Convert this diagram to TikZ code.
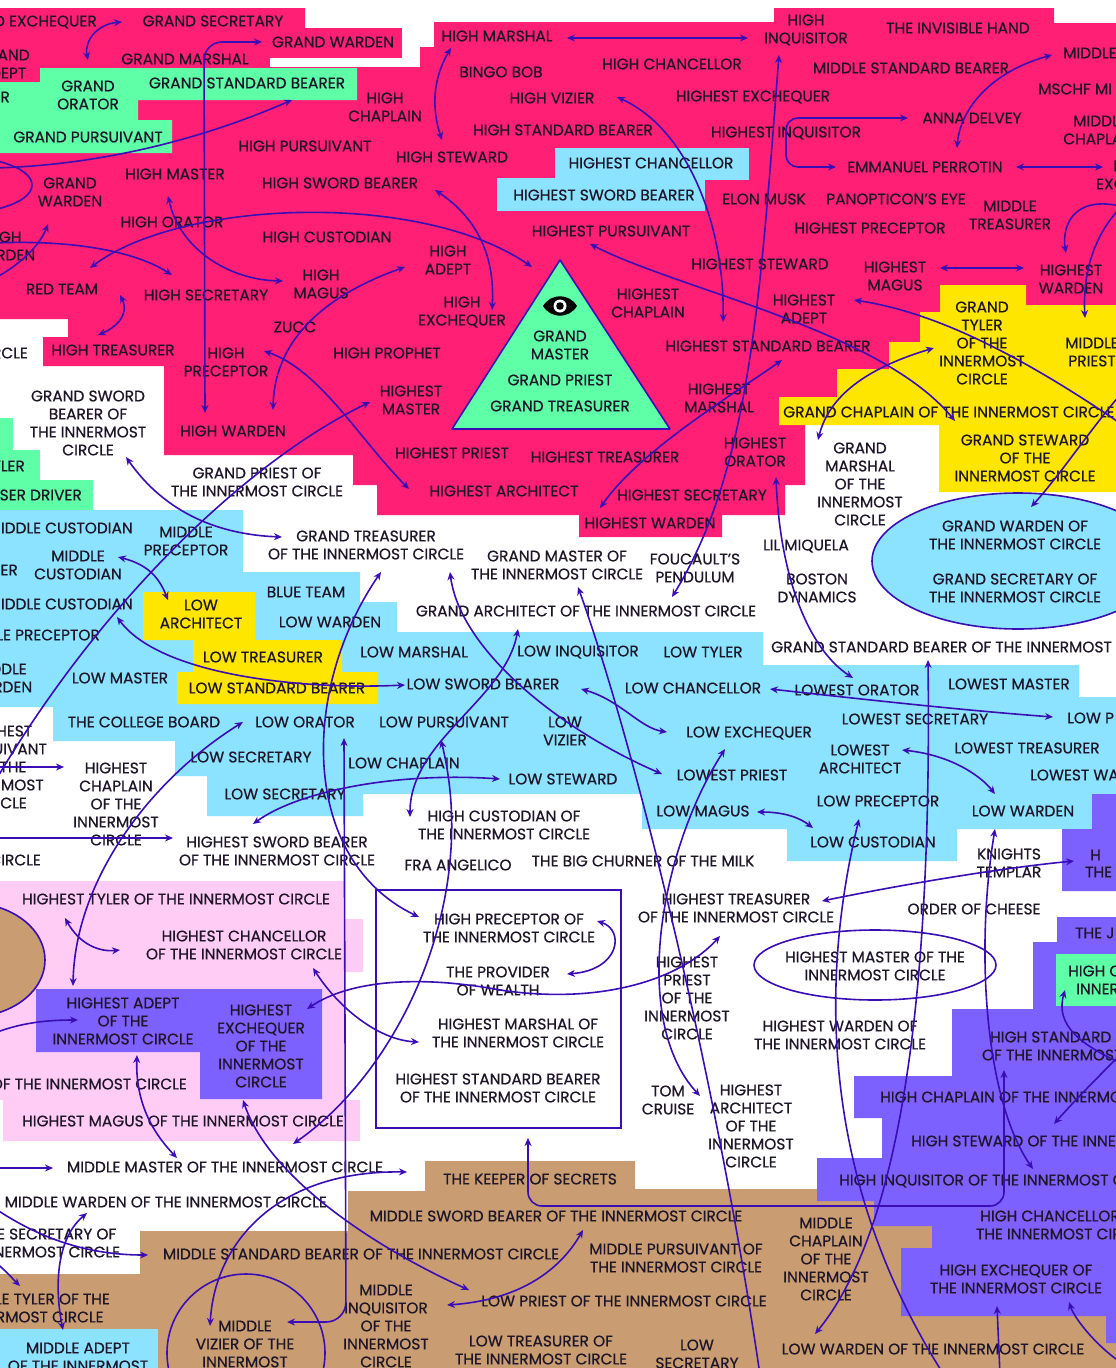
\documentclass[tikz,border=0pt]{standalone}
\usepackage{fontspec}
\setmainfont{Poppins}[FakeBold=0.6]
\usetikzlibrary{arrows.meta}
\definecolor{pinkbg}{RGB}{255,31,116}
\definecolor{mint}{RGB}{94,255,167}
\definecolor{lblue}{RGB}{140,227,255}
\definecolor{yel}{RGB}{255,230,0}
\definecolor{lpink}{RGB}{255,204,245}
\definecolor{purp}{RGB}{124,97,255}
\definecolor{tan}{RGB}{201,157,113}
\definecolor{arc}{RGB}{58,14,180}
\definecolor{txt}{RGB}{30,22,40}
\newcommand\mytf{\fontsize{15.4}{18}\selectfont}
\begin{document}
\begin{tikzpicture}[x=1pt,y=-1pt,
  tx/.style={font=\mytf, align=center, inner sep=0pt, text=txt},
  ab/.style={draw=arc, line width=1.6pt, {Stealth[length=8pt,width=7pt]}-{Stealth[length=8pt,width=7pt]}},
  ae/.style={draw=arc, line width=1.6pt, -{Stealth[length=8pt,width=7pt]}},
  outl/.style={draw=arc, line width=1.6pt}]
\useasboundingbox (0,0) rectangle (1116,1368);
\fill[white] (0,0) rectangle (1116,1368);
% ---------- backgrounds ----------
\fill[pinkbg] (0,8)--(305,8)--(305,28)--(434,28)--(434,22)--(774,22)--(774,8)--(1054,8)--(1054,23)--(1116,23)--(1116,305)--(1026,305)--(1026,285)--(940,285)--(940,312)--(920,312)--(920,342)--(889,342)--(889,369)--(837,369)--(837,397)--(779,397)--(779,425)--(805,425)--(805,485)--(785,485)--(785,515)--(722,515)--(722,537)--(579,537)--(579,515)--(377,515)--(377,485)--(353,485)--(353,455)--(164,455)--(164,366)--(43,366)--(43,337)--(68,337)--(68,319)--(0,319)--cycle;
\fill[white] (402,0) rectangle (420,67);
\fill[white] (420,0) rectangle (434,47);
\fill[white] (270,58) rectangle (402,67);
\fill[lblue] (555,148) rectangle (749,180);
\fill[lblue] (497,178) rectangle (705,211);
\fill[mint] (40,68)--(357,68)--(357,100)--(138,100)--(138,120)--(172,120)--(172,153)--(0,153)--(0,82)--(40,82)--cycle;
\fill[mint] (0,418) rectangle (13,450);
\fill[mint] (0,450) rectangle (40,480);
\fill[mint] (0,480) rectangle (93,510);
\fill[mint] (0,552) rectangle (18,580);
\fill[yel] (940,285)--(1026,285)--(1026,305)--(1116,305)--(1116,492)--(939,492)--(939,425)--(779,425)--(779,397)--(837,397)--(837,369)--(889,369)--(889,342)--(920,342)--(920,312)--(940,312)--cycle;
\fill[lblue] (0,510)--(243,510)--(243,572)--(360,572)--(360,602)--(397,602)--(397,632)--(763,632)--(763,665)--(1079,665)--(1079,697)--(1116,697)--(1116,794)--(1092,794)--(1092,829)--(957,829)--(957,861)--(787,861)--(787,829)--(642,829)--(642,794)--(363,794)--(363,816)--(207,816)--(207,776)--(175,776)--(175,741)--(53,741)--(53,707)--(0,707)--cycle;
\fill[yel] (143,592)--(255,592)--(255,640)--(342,640)--(342,672)--(378,672)--(378,704)--(177,704)--(177,672)--(193,672)--(193,640)--(143,640)--cycle;
\fill[lpink] (0,881)--(345,881)--(345,919)--(363,919)--(363,972)--(345,972)--(345,1100)--(360,1100)--(360,1141)--(3,1141)--(3,1100)--(0,1100)--cycle;
\filldraw[fill=tan, outl] (-30,960) ellipse [x radius=75pt, y radius=57pt];
\fill[purp] (36,989)--(322,989)--(322,1099)--(200,1099)--(200,1052)--(36,1052)--cycle;
\fill[tan] (0,1274)--(140,1274)--(140,1231)--(348,1231)--(348,1191)--(425,1191)--(425,1161)--(635,1161)--(635,1189)--(1116,1189)--(1116,1368)--(0,1368)--cycle;
\fill[purp] (1057,917)--(1116,917)--(1116,1343)--(1106,1343)--(1106,1316)--(901,1316)--(901,1248)--(932,1248)--(932,1226)--(874,1226)--(874,1201)--(817,1201)--(817,1158)--(882,1158)--(882,1118)--(854,1118)--(854,1076)--(952,1076)--(952,1009)--(1033,1009)--(1033,942)--(1057,942)--cycle;
\fill[purp] (1092,794)--(1116,794)--(1116,891)--(1062,891)--(1062,829)--(1092,829)--cycle;
\fill[mint] (1056,954) rectangle (1116,1006);
\fill[lblue] (0,1329) rectangle (158,1368);
\draw[outl] (246,1353) circle [radius=79pt];
\draw[outl] (376,890) rectangle (621,1128);
\draw[outl] (875,965) ellipse [x radius=121pt, y radius=35pt];
\filldraw[fill=lblue, outl] (1018,561) ellipse [x radius=146pt, y radius=68pt];
\draw[outl] (-40,185) ellipse [x radius=72pt, y radius=28pt];
\filldraw[fill=mint, outl, line join=round] (560,260)--(670,429)--(452,429)--cycle;
% eye
\fill[black] (543,306) .. controls (551,293) and (569,293) .. (577,306) .. controls (569,319) and (551,319) .. (543,306) -- cycle;
\fill[white] (560,306) circle [radius=6.5pt];
\fill[black] (560,306) circle [radius=3.8pt];
% ---------- texts: top ----------
\node[tx, anchor=east] (tp1) at (97,22) {GRAND EXCHEQUER};
\node[tx] (tp2) at (213,21) {GRAND SECRETARY};
\node[tx] (tp3) at (3,64) {GRAND\\ADEPT};
\node[tx] (tp4) at (185,59) {GRAND MARSHAL};
\node[tx] (tp5) at (333,42) {GRAND WARDEN};
\node[tx] (tp6) at (88,95) {GRAND\\ORATOR};
\node[tx] (tp7) at (247,83) {GRAND STANDARD BEARER};
\node[tx, anchor=east] (tp8) at (10,97) {R};
\node[tx] (tp9) at (88,137) {GRAND PURSUIVANT};
\node[tx] (tp10) at (70,192) {GRAND\\WARDEN};
\node[tx] (tp11) at (175,174) {HIGH MASTER};
\node[tx] (tp12) at (172,222) {HIGH ORATOR};
\node[tx] (tp13) at (3,246) {HIGH\\WARDEN};
\node[tx] (tp14) at (62,289) {RED TEAM};
\node[tx] (tp15) at (206,295) {HIGH SECRETARY};
\node[tx] (tp16) at (321,284) {HIGH\\MAGUS};
\node[tx] (tp17) at (295,327) {ZUCC};
\node[tx] (tp18) at (305,146) {HIGH PURSUIVANT};
\node[tx] (tp19) at (340,183) {HIGH SWORD BEARER};
\node[tx] (tp20) at (327,237) {HIGH CUSTODIAN};
\node[tx] (tp21) at (385,107) {HIGH\\CHAPLAIN};
\node[tx] (tp22) at (497,36) {HIGH MARSHAL};
\node[tx] (tp23) at (501,72) {BINGO BOB};
\node[tx] (tp24) at (672,64) {HIGH CHANCELLOR};
\node[tx] (tp25) at (552,98) {HIGH VIZIER};
\node[tx] (tp26) at (753,97) {HIGHEST EXCHEQUER};
\node[tx] (tp27) at (563,130) {HIGH STANDARD BEARER};
\node[tx] (tp28) at (786,133) {HIGHEST INQUISITOR};
\node[tx] (tp29) at (452,157) {HIGH STEWARD};
\node[tx] (tp30) at (651,163) {HIGHEST CHANCELLOR};
\node[tx] (tp31) at (604,195) {HIGHEST SWORD BEARER};
\node[tx] (tp32) at (764,199) {ELON MUSK};
\node[tx] (tp33) at (611,231) {HIGHEST PURSUIVANT};
\node[tx] (tp34) at (448,260) {HIGH\\ADEPT};
\node[tx] (tp35) at (462,312) {HIGH\\EXCHEQUER};
\node[tx] (tp36) at (760,264) {HIGHEST STEWARD};
\node[tx] (tp37) at (648,303) {HIGHEST\\CHAPLAIN};
\node[tx] (tp38) at (806,30) {HIGH\\INQUISITOR};
\node[tx] (tp39) at (958,28) {THE INVISIBLE HAND};
\node[tx] (tp40) at (911,68) {MIDDLE STANDARD BEARER};
\node[tx, anchor=west] (tp41) at (1063,53) {MIDDLE};
\node[tx, anchor=west] (tp42) at (1038,89) {MSCHF MI};
\node[tx] (tp43) at (1100,130) {MIDDLE\\CHAPLAIN};
\node[tx] (tp44) at (972,118) {ANNA DELVEY};
\node[tx] (tp45) at (925,167) {EMMANUEL PERROTIN};
\node[tx] (tp46) at (1140,176) {MIDDLE\\EXCHEQUER};
\node[tx] (tp47) at (896,199) {PANOPTICON’S EYE};
\node[tx] (tp48) at (870,228) {HIGHEST PRECEPTOR};
\node[tx] (tp49) at (1010,215) {MIDDLE\\TREASURER};
\node[tx] (tp50) at (895,276) {HIGHEST\\MAGUS};
\node[tx] (tp51) at (1071,279) {HIGHEST\\WARDEN};
\node[tx] (tp52) at (804,309) {HIGHEST\\ADEPT};
\node[tx] (tp53) at (982,343) {GRAND\\TYLER\\OF THE\\INNERMOST\\CIRCLE};
\node[tx] (tp54) at (1092,352) {MIDDLE\\PRIEST};
\node[tx] (tp55) at (768,346) {HIGHEST STANDARD BEARER};
\node[tx] (tp56) at (387,353) {HIGH PROPHET};
\node[tx] (tp57) at (226,362) {HIGH\\PRECEPTOR};
\node[tx] (tp58) at (113,350) {HIGH TREASURER};
\node[tx, anchor=east] (tp59) at (28,353) {CIRCLE};
\node[tx] (tp60) at (411,400) {HIGHEST\\MASTER};
\node[tx] (tp61) at (719,398) {HIGHEST\\MARSHAL};
\node[tx] (tp62) at (233,431) {HIGH WARDEN};
\node[tx, anchor=west] (tp63) at (783,412) {GRAND CHAPLAIN OF THE INNERMOST CIRCLE};
\node[tx] (tp64) at (1025,458) {GRAND STEWARD\\OF THE\\INNERMOST CIRCLE};
\node[tx] (tp65) at (860,484) {GRAND\\MARSHAL\\OF THE\\INNERMOST\\CIRCLE};
\node[tx] (tp66) at (755,452) {HIGHEST\\ORATOR};
\node[tx] (tp67) at (452,453) {HIGHEST PRIEST};
\node[tx] (tp68) at (605,457) {HIGHEST TREASURER};
\node[tx] (tp69) at (504,491) {HIGHEST ARCHITECT};
\node[tx] (tp70) at (692,495) {HIGHEST SECRETARY};
\node[tx] (tp71) at (650,523) {HIGHEST WARDEN};
\node[tx] (tri1) at (560,345) {GRAND\\MASTER};
\node[tx] (tri2) at (560,380) {GRAND PRIEST};
\node[tx] (tri3) at (560,406) {GRAND TREASURER};
% ---------- texts: middle ----------
\node[tx] (tm1) at (88,423) {GRAND SWORD\\BEARER OF\\THE INNERMOST\\CIRCLE};
\node[tx] (tm2) at (257,482) {GRAND PRIEST OF\\THE INNERMOST CIRCLE};
\node[tx, anchor=east] (tm3) at (25,466) {TYLER};
\node[tx, anchor=east] (tm4) at (82,495) {SER DRIVER};
\node[tx, anchor=east] (tm5) at (133,528) {MIDDLE CUSTODIAN};
\node[tx] (tm6) at (186,541) {MIDDLE\\PRECEPTOR};
\node[tx] (tm7) at (366,545) {GRAND TREASURER\\OF THE INNERMOST CIRCLE};
\node[tx] (tm8) at (78,565) {MIDDLE\\CUSTODIAN};
\node[tx, anchor=east] (tm9) at (18,570) {ER};
\node[tx, anchor=east] (tm10) at (133,604) {MIDDLE CUSTODIAN};
\node[tx] (tm11) at (201,614) {LOW\\ARCHITECT};
\node[tx] (tm12) at (306,592) {BLUE TEAM};
\node[tx] (tm13) at (330,622) {LOW WARDEN};
\node[tx, anchor=east] (tm14) at (100,635) {MIDDLE PRECEPTOR};
\node[tx] (tm15) at (0,678) {MIDDLE\\WARDEN};
\node[tx] (tm16) at (120,678) {LOW MASTER};
\node[tx] (tm17) at (263,657) {LOW TREASURER};
\node[tx] (tm18) at (277,688) {LOW STANDARD BEARER};
\node[tx] (tm19) at (414,652) {LOW MARSHAL};
\node[tx] (tm20) at (557,565) {GRAND MASTER OF\\THE INNERMOST CIRCLE};
\node[tx] (tm21) at (695,568) {FOUCAULT’S\\PENDULUM};
\node[tx] (tm22) at (806,546) {LIL MIQUELA};
\node[tx] (tm23) at (817,588) {BOSTON\\DYNAMICS};
\node[tx] (tm24) at (1015,535) {GRAND WARDEN OF\\THE INNERMOST CIRCLE};
\node[tx] (tm25) at (1015,588) {GRAND SECRETARY OF\\THE INNERMOST CIRCLE};
\node[tx] (tm26) at (586,611) {GRAND ARCHITECT OF THE INNERMOST CIRCLE};
\node[tx, anchor=west] (tm27) at (771,647) {GRAND STANDARD BEARER OF THE INNERMOST CIRCLE};
\node[tx] (tm28) at (578,652) {LOW INQUISITOR};
\node[tx] (tm29) at (703,652) {LOW TYLER};
\node[tx] (tm30) at (483,684) {LOW SWORD BEARER};
\node[tx] (tm31) at (693,688) {LOW CHANCELLOR};
\node[tx] (tm32) at (857,690) {LOWEST ORATOR};
\node[tx] (tm33) at (1009,684) {LOWEST MASTER};
\node[tx] (tm34) at (144,722) {THE COLLEGE BOARD};
\node[tx] (tm35) at (305,722) {LOW ORATOR};
\node[tx] (tm36) at (444,722) {LOW PURSUIVANT};
\node[tx] (tm37) at (565,731) {LOW\\VIZIER};
\node[tx] (tm38) at (749,733) {LOW EXCHEQUER};
\node[tx] (tm39) at (915,719) {LOWEST SECRETARY};
\node[tx, anchor=west] (tm40) at (1067,718) {LOW P};
\node[tx] (tm41) at (1,767) {HIGHEST\\PURSUIVANT\\OF THE\\INNERMOST\\CIRCLE};
\node[tx] (tm42) at (116,804) {HIGHEST\\CHAPLAIN\\OF THE\\INNERMOST\\CIRCLE};
\node[tx] (tm43) at (251,757) {LOW SECRETARY};
\node[tx] (tm44) at (404,763) {LOW CHAPLAIN};
\node[tx] (tm45) at (563,779) {LOW STEWARD};
\node[tx] (tm46) at (732,775) {LOWEST PRIEST};
\node[tx] (tm47) at (860,759) {LOWEST\\ARCHITECT};
\node[tx] (tm48) at (1027,748) {LOWEST TREASURER};
\node[tx, anchor=west] (tm49) at (1030,775) {LOWEST WA};
\node[tx] (tm50) at (285,794) {LOW SECRETARY};
\node[tx] (tm51) at (878,801) {LOW PRECEPTOR};
\node[tx] (tm52) at (1023,811) {LOW WARDEN};
\node[tx] (tm53) at (703,811) {LOW MAGUS};
\node[tx] (tm54) at (873,842) {LOW CUSTODIAN};
\node[tx] (tm55) at (504,825) {HIGH CUSTODIAN OF\\THE INNERMOST CIRCLE};
\node[tx] (tm56) at (277,851) {HIGHEST SWORD BEARER\\OF THE INNERMOST CIRCLE};
\node[tx, anchor=east] (tm57) at (41,860) {CIRCLE};
\node[tx] (tm58) at (458,865) {FRA ANGELICO};
\node[tx] (tm59) at (643,861) {THE BIG CHURNER OF THE MILK};
\node[tx] (tm60) at (1009,863) {KNIGHTS\\TEMPLAR};
\node[tx, anchor=west] (tm61) at (1090,855) {H};
\node[tx, anchor=west] (tm62) at (1085,872) {THE};
% ---------- texts: lower ----------
\node[tx] (tl1) at (176,899) {HIGHEST TYLER OF THE INNERMOST CIRCLE};
\node[tx] (tl2) at (736,908) {HIGHEST TREASURER\\OF THE INNERMOST CIRCLE};
\node[tx] (tl3) at (974,909) {ORDER OF CHEESE};
\node[tx, anchor=west] (tl4) at (1075,933) {THE J};
\node[tx, anchor=west] (tl5) at (1068,971) {HIGH C};
\node[tx, anchor=west] (tl6) at (1076,989) {INNER};
\node[tx] (tl7) at (244,945) {HIGHEST CHANCELLOR\\OF THE INNERMOST CIRCLE};
\node[tx] (tl8) at (509,928) {HIGH PRECEPTOR OF\\THE INNERMOST CIRCLE};
\node[tx] (tl9) at (498,981) {THE PROVIDER\\OF WEALTH};
\node[tx] (tl10) at (875,966) {HIGHEST MASTER OF THE\\INNERMOST CIRCLE};
\node[tx] (tl11) at (687,998) {HIGHEST\\PRIEST\\OF THE\\INNERMOST\\CIRCLE};
\node[tx] (tl12) at (123,1021) {HIGHEST ADEPT\\OF THE\\INNERMOST CIRCLE};
\node[tx] (tl13) at (261,1046) {HIGHEST\\EXCHEQUER\\OF THE\\INNERMOST\\CIRCLE};
\node[tx] (tl14) at (518,1033) {HIGHEST MARSHAL OF\\THE INNERMOST CIRCLE};
\node[tx] (tl15) at (840,1035) {HIGHEST WARDEN OF\\THE INNERMOST CIRCLE};
\node[tx] (tl16) at (1080,1046) {HIGH STANDARD BEARER\\OF THE INNERMOST CIRCLE};
\node[tx, anchor=east] (tl17) at (187,1084) {OF THE INNERMOST CIRCLE};
\node[tx] (tl18) at (498,1088) {HIGHEST STANDARD BEARER\\OF THE INNERMOST CIRCLE};
\node[tx] (tl19) at (668,1100) {TOM\\CRUISE};
\node[tx] (tl20) at (751,1126) {HIGHEST\\ARCHITECT\\OF THE\\INNERMOST\\CIRCLE};
\node[tx, anchor=west] (tl21) at (880,1097) {HIGH CHAPLAIN OF THE INNERMOST CIRCLE};
\node[tx] (tl22) at (183,1121) {HIGHEST MAGUS OF THE INNERMOST CIRCLE};
\node[tx, anchor=west] (tl23) at (911,1141) {HIGH STEWARD OF THE INNERMOST CIRCLE};
\node[tx] (tl24) at (225,1167) {MIDDLE MASTER OF THE INNERMOST CIRCLE};
\node[tx] (tl25) at (530,1179) {THE KEEPER OF SECRETS};
\node[tx, anchor=west] (tl26) at (839,1181) {HIGH INQUISITOR OF THE INNERMOST CIRCLE};
\node[tx, anchor=east] (tl27) at (327,1202) {MIDDLE WARDEN OF THE INNERMOST CIRCLE};
\node[tx] (tl28) at (556,1216) {MIDDLE SWORD BEARER OF THE INNERMOST CIRCLE};
\node[tx] (tl29) at (1062,1225) {HIGH CHANCELLOR OF\\THE INNERMOST CIRCLE};
\node[tx] (tl30) at (34,1243) {MIDDLE SECRETARY OF\\THE INNERMOST CIRCLE};
\node[tx] (tl31) at (361,1254) {MIDDLE STANDARD BEARER OF THE INNERMOST CIRCLE};
\node[tx] (tl32) at (676,1258) {MIDDLE PURSUIVANT OF\\THE INNERMOST CIRCLE};
\node[tx] (tl33) at (826,1259) {MIDDLE\\CHAPLAIN\\OF THE\\INNERMOST\\CIRCLE};
\node[tx] (tl34) at (1016,1279) {HIGH EXCHEQUER OF\\THE INNERMOST CIRCLE};
\node[tx] (tl35) at (33,1308) {MIDDLE TYLER OF THE\\INNERMOST CIRCLE};
\node[tx] (tl36) at (386,1326) {MIDDLE\\INQUISITOR\\OF THE\\INNERMOST\\CIRCLE};
\node[tx] (tl37) at (624,1301) {LOW PRIEST OF THE INNERMOST CIRCLE};
\node[tx] (tl38) at (245,1344) {MIDDLE\\VIZIER OF THE\\INNERMOST};
\node[tx] (tl39) at (78,1357) {MIDDLE ADEPT\\OF THE INNERMOST};
\node[tx] (tl40) at (541,1350) {LOW TREASURER OF\\THE INNERMOST CIRCLE};
\node[tx] (tl41) at (697,1354) {LOW\\SECRETARY};
\node[tx] (tl42) at (933,1349) {LOW WARDEN OF THE INNERMOST CIRCLE};
% ---------- connectors ----------
\draw[ab] (122,22) .. controls (98,24) and (84,40) .. (88,60);
\draw[ab, rounded corners=18pt] (205,413) -- (204,42) -- (262,42);
\draw[ae] (-5,168) .. controls (100,165) and (200,140) .. (292,100);
\draw[ab] (168,196) .. controls (180,250) and (230,280) .. (283,281);
\draw[ae] (-5,278) .. controls (20,265) and (40,245) .. (48,224);
\draw[ae] (-5,243) .. controls (60,240) and (130,248) .. (172,275);
\draw[ab] (90,268) .. controls (180,200) and (420,190) .. (532,267);
\draw[ab] (120,295) .. controls (130,315) and (115,328) .. (98,335);
\draw[ab] (273,410) .. controls (275,330) and (340,290) .. (405,267);
\draw[ab] (451,48) .. controls (432,80) and (432,110) .. (442,140);
\draw[ab] (567,38) -- (748,38);
\draw[ab] (435,190) .. controls (480,220) and (495,260) .. (492,310);
\draw[ab] (617,97) .. controls (690,130) and (725,230) .. (723,322);
\draw[ab] (590,244) .. controls (680,290) and (880,330) .. (955,421);
\draw[ab] (779,55) .. controls (760,300) and (750,470) .. (672,597);
\draw[ae] (1130,430) .. controls (1000,340) and (920,310) .. (854,300);
\draw[ab] (940,268) -- (1024,268);
\draw[ab, rounded corners=12pt] (908,118) -- (786,118) -- (786,167) -- (836,167);
\draw[ab] (1052,55) .. controls (990,72) and (960,110) .. (957,148);
\draw[ab] (1016,167) -- (1103,167);
\draw[ae] (1120,206) .. controls (1070,195) and (1062,230) .. (1066,253);
\draw[ae] (1120,208) .. controls (1090,240) and (1083,280) .. (1085,318);
\draw[ab] (934,348) .. controls (860,370) and (828,400) .. (818,440);
\draw[ab] (782,360) .. controls (740,390) and (640,450) .. (600,508);
\draw[ae] (1120,395) .. controls (1090,430) and (1060,475) .. (1031,507);
\draw[ab] (776,477) .. controls (780,580) and (810,650) .. (853,678);
\draw[ab] (928,660) .. controls (932,1000) and (900,1230) .. (815,1334);
\draw[ae] (944,1375) .. controls (820,1180) and (820,980) .. (859,819);
\draw[ab] (995,829) .. controls (975,950) and (985,1100) .. (1033,1169);
\draw[ab, rounded corners=14pt] (1004,1070) -- (1004,1206) -- (528,1206) -- (528,1138);
\draw[ae] (760,1375) .. controls (720,1100) and (640,760) .. (578,587);
\draw[ab] (725,749) .. controls (660,850) and (630,1020) .. (700,1096);
\draw[ab] (450,572) .. controls (460,650) and (560,730) .. (662,774);
\draw[ab] (518,629) .. controls (505,700) and (410,740) .. (410,817);
\draw[ab] (253,824) .. controls (300,790) and (400,772) .. (500,779);
\draw[ab] (441,740) .. controls (480,900) and (400,1070) .. (293,1144);
\draw[ab] (243,722) .. controls (150,780) and (75,880) .. (73,986);
\draw[ab, rounded corners=20pt] (344,738) -- (346,1322) -- (287,1322);
\draw[ab] (381,572) .. controls (300,690) and (300,860) .. (419,917);
\draw[ab] (117,617) .. controls (160,675) and (300,690) .. (405,685);
\draw[ae] (-10,790) .. controls (100,600) and (250,460) .. (370,402);
\draw[ab] (264,351) .. controls (320,370) and (360,440) .. (409,489);
\draw[ab] (307,1009) .. controls (350,980) and (420,975) .. (500,990) .. controls (600,1005) and (680,980) .. (720,936);
\draw[ab] (313,968) .. controls (340,1010) and (380,1040) .. (419,1042);
\draw[ae] (-10,1035) .. controls (20,1022) and (50,1020) .. (78,1020);
\draw[ab] (137,1055) .. controls (135,1110) and (160,1140) .. (177,1158);
\draw[ab] (243,1100) .. controls (270,1180) and (380,1250) .. (469,1290);
\draw[ae] (-5,1168) -- (53,1168);
\draw[ab] (407,1172) .. controls (280,1170) and (215,1240) .. (210,1326);
\draw[ab] (87,1213) .. controls (55,1240) and (55,1290) .. (63,1330);
\draw[ae] (-10,1205) .. controls (40,1240) and (90,1255) .. (148,1255);
\draw[ae] (-5,1262) .. controls (5,1270) and (12,1278) .. (20,1286);
\draw[ab] (447,1305) .. controls (520,1300) and (560,1270) .. (583,1230);
\draw[ab] (581,689) .. controls (620,700) and (640,728) .. (667,732);
\draw[ab] (597,921) .. controls (625,930) and (620,970) .. (567,974);
\draw[ab] (770,689) .. controls (870,700) and (960,710) .. (1053,717);
\draw[ab] (902,750) .. controls (950,755) and (980,775) .. (995,794);
\draw[ab] (757,812) .. controls (785,812) and (800,818) .. (813,828);
\draw[ab] (822,901) .. controls (900,885) and (1000,868) .. (1074,861);
\draw[ae] (1125,1065) .. controls (1080,1045) and (1055,1025) .. (1065,990);
\draw[ae] (1125,1050) .. controls (1100,1075) and (1075,1100) .. (1054,1124);
\draw[ae] (1125,1365) .. controls (1100,1350) and (1075,1320) .. (1069,1302);
\draw[ae] (1000,1375) -- (997,1306);
\draw[ae] (-5,767) -- (64,767);
\draw[ae] (-5,838) -- (173,838);
\draw[ab] (65,918) .. controls (80,945) and (100,952) .. (120,950);
\draw[ab] (118,557) .. controls (150,565) and (160,580) .. (168,600);
\draw[ab] (126,457) .. controls (170,520) and (230,535) .. (282,537);
\end{tikzpicture}
\end{document}
